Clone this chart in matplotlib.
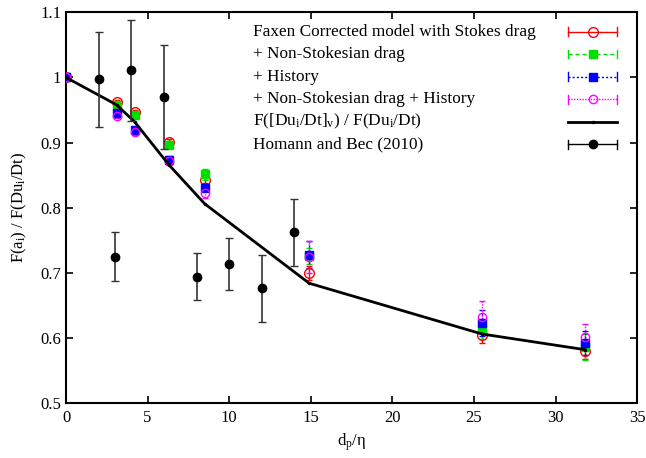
import numpy as np
import matplotlib
matplotlib.use("Agg")
import matplotlib.pyplot as plt

plt.rcParams['font.family'] = ['Liberation Serif', 'DejaVu Serif']
plt.rcParams['mathtext.fontset'] = 'custom'
plt.rcParams['mathtext.rm'] = 'Liberation Serif'
plt.rcParams['mathtext.it'] = 'Liberation Serif:italic'

# particle diameters d_p / eta
dp = [0, 3.1, 4.2, 6.3, 8.5, 14.9, 25.5, 31.8]

# model results (value, error)
faxen = [1.0, 0.962, 0.947, 0.901, 0.843, 0.700, 0.604, 0.580]
faxen_err = [0, 0.003, 0.003, 0.004, 0.005, 0.011, 0.012, 0.012]
nonstokes = [1.0, 0.958, 0.942, 0.897, 0.851, 0.726, 0.613, 0.586]
nonstokes_err = [0, 0.003, 0.004, 0.005, 0.008, 0.012, 0.015, 0.020]
history = [1.0, 0.945, 0.920, 0.874, 0.831, 0.728, 0.623, 0.592]
history_err = [0, 0.003, 0.004, 0.005, 0.006, 0.021, 0.020, 0.018]
both = [1.0, 0.941, 0.916, 0.871, 0.823, 0.724, 0.632, 0.601]
both_err = [0, 0.003, 0.004, 0.006, 0.008, 0.025, 0.024, 0.020]

# ratio of flatness of viscous term
visc = [1.0, 0.958, 0.932, 0.866, 0.806, 0.684, 0.606, 0.582]

# Homann and Bec (2010)
hb_x = [2, 3, 4, 6, 8, 10, 12, 14]
hb_y = [0.997, 0.725, 1.011, 0.970, 0.694, 0.713, 0.676, 0.762]
hb_err = [0.073, 0.038, 0.078, 0.080, 0.036, 0.040, 0.052, 0.052]

fig = plt.figure(figsize=(6.46, 4.58), dpi=100)
ax = fig.add_axes([0.1022, 0.120, 0.884, 0.853])

series = [
    (faxen, faxen_err, 'red', '-', 'o', 'none', 7, "Faxen Corrected model with Stokes drag"),
    (nonstokes, nonstokes_err, '#00e000', (0, (3, 2)), 's', '#00e000', 5.5, "+ Non-Stokesian drag"),
    (history, history_err, 'blue', (0, (1.5, 1.5)), 's', 'blue', 5.5, "+ History"),
    (both, both_err, 'magenta', (0, (1, 1)), 'o', 'none', 6, "+ Non-Stokesian drag + History"),
]

for y, e, c, ls, m, mfc, ms, lab in series:
    eb = ax.errorbar(dp, y, yerr=e, color=c, marker=m, mfc=mfc, mec=c, ms=ms,
                     linestyle='none', elinewidth=1.0, capsize=2.5, capthick=1.0, zorder=3)
    for lc in eb[2]:
        lc.set_linestyle(ls)

ax.plot(dp, visc, color='black', lw=2, marker='.', ms=3, zorder=4)

ax.errorbar(hb_x, hb_y, yerr=hb_err, color='black', marker='o', ms=6, linestyle='none',
            elinewidth=1.2, ecolor='#333333', capsize=3, capthick=1.0, zorder=5)

ax.set_xlim(0, 35)
ax.set_ylim(0.5, 1.1)
ax.set_xticks(np.arange(0, 36, 5))
ax.set_yticks(np.arange(0.5, 1.11, 0.1))
ax.set_yticklabels(['0.5', '0.6', '0.7', '0.8', '0.9', '1', '1.1'])
ax.tick_params(direction='in', top=True, right=True, length=5, width=1.2, labelsize=12)
ax.tick_params(axis='x', pad=5)
for s in ax.spines.values():
    s.set_linewidth(1.5)

ax.set_xlabel(r'd$_\mathrm{p}$/η', fontsize=12, labelpad=4)
ax.set_ylabel(r'F(a$_\mathrm{i}$) / F(Du$_\mathrm{i}$/Dt)', fontsize=12, labelpad=8)

# gnuplot-style key: text left, sample on the right
tx, x1, x2 = 0.327, 0.879, 0.965
xm = (x1 + x2) / 2
row0, step = 0.951, 0.0578
keys = [(c, ls, m, mfc, ms, lab, True) for _, _, c, ls, m, mfc, ms, lab in series]
keys.append(('black', '-', '.', 'black', 3, r'F([Du$_\mathrm{i}$/Dt]$_\mathrm{v}$) / F(Du$_\mathrm{i}$/Dt)', False))
keys.append(('black', '-', 'o', 'black', 6, 'Homann and Bec (2010)', True))
for i, (c, ls, m, mfc, ms, lab, caps) in enumerate(keys):
    yy = row0 - i * step
    ax.text(tx, yy, lab, transform=ax.transAxes, fontsize=12.4, va='center', ha='left')
    lw = 2 if not caps else 1.0
    ax.plot([x1, x2], [yy, yy], color=c, ls=ls, lw=lw, transform=ax.transAxes, clip_on=False)
    ax.plot([xm], [yy], color=c, marker=m, mfc=mfc, mec=c, ms=ms, transform=ax.transAxes, clip_on=False)
    if caps:
        for xc in (x1, x2):
            ax.plot([xc, xc], [yy - 0.011, yy + 0.011], color=c, lw=1.0,
                    transform=ax.transAxes, clip_on=False)

fig.savefig('out.png', dpi=100)
